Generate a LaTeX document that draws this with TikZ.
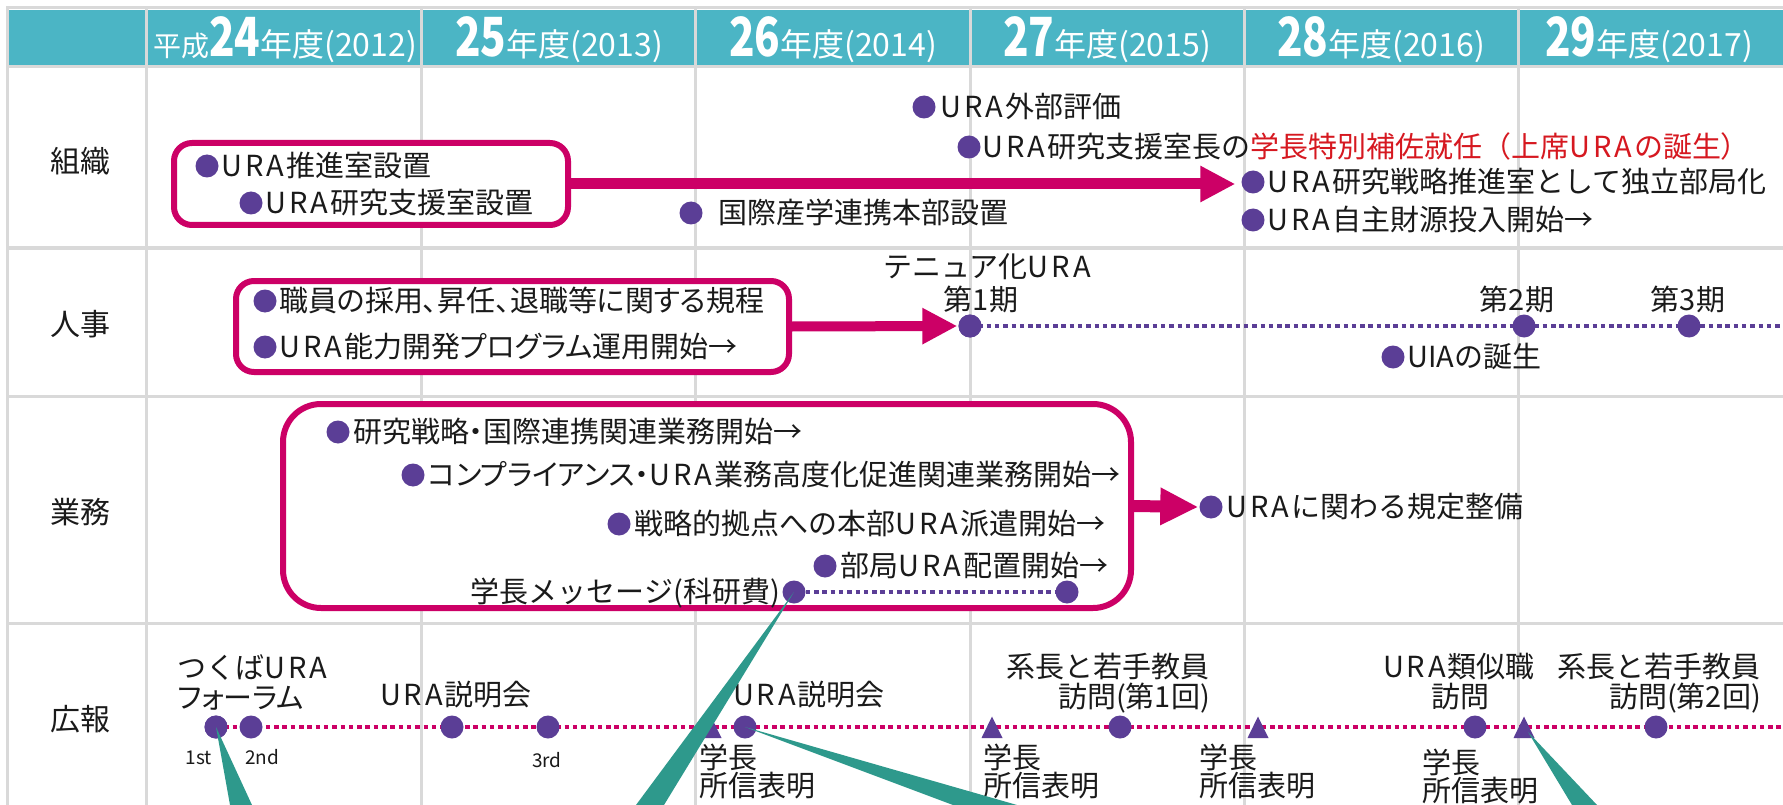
\documentclass[tikz,border=0pt]{standalone}
\usepackage{fontspec}
\usepackage{graphicx}
\setmainfont{Noto Sans CJK JP}
\newfontfamily\jpp{Noto Sans CJK JP}[RawFeature=+palt]
\usetikzlibrary{arrows.meta}
\definecolor{hdr}{RGB}{75,181,197}
\definecolor{grd}{RGB}{217,217,217}
\definecolor{mag}{RGB}{204,0,102}
\definecolor{purp}{RGB}{91,62,150}
\definecolor{tealw}{RGB}{46,153,140}
\definecolor{redt}{RGB}{214,24,32}
\definecolor{ink}{RGB}{26,26,26}
\newcommand{\fsz}[1]{\fontsize{#1}{#1}\selectfont}
\newcommand{\hbig}[1]{{\fsz{54}\bfseries\scalebox{0.78}[1]{#1}}}
\newcommand{\ura}{U\kern3pt R\kern3pt A\kern2pt}
\begin{document}
\begin{tikzpicture}[x=1pt,y=-1pt,
  txt/.style={inner sep=0, font=\fsz{29}, text=ink, text height=23pt, text depth=2pt},
  tw/.style={txt, anchor=west},
  te/.style={txt, anchor=east},
  two/.style={inner sep=0, font=\fontsize{29}{25}\selectfont, text=ink, anchor=north west, align=left},
  sm/.style={inner sep=0, font=\fsz{19}, text=ink, text height=14pt, text depth=0pt},
  hd/.style={inner sep=0, anchor=base, text=white},
  bul/.style={circle, fill=purp, inner sep=0, minimum size=23},
  tdot/.style={circle, fill=purp, inner sep=0, minimum size=23},
  rbox/.style={draw=mag, line width=6, fill=white, rounded corners=18, inner sep=0},
  gl/.style={grd, line width=3},
  harrow/.style={mag, -{Triangle[length=35pt 0, width=34pt 0]}},
  dotp/.style={purp, line width=3.5, dash pattern=on 4.5 off 3.8},
  dotm/.style={mag, line width=4, dash pattern=on 4.5 off 3.8},
  wedge/.style={fill=tealw}
]
\useasboundingbox (0,0) rectangle (1783,805);
\fill[white] (0,0) rectangle (1783,805);
% header band
\fill[hdr] (9,10) rectangle (1783,66);
% grid
\foreach \xx in {146,421,695,970,1244,1518} \draw[gl] (\xx,8) -- (\xx,805);
\draw[gl] (7.5,8) -- (7.5,805);
\draw[gl] (6,8) -- (1783,8);
\foreach \yy in {66.5,248,396,623} \draw[gl] (6,\yy) -- (1783,\yy);
% header texts
\node[hd] (h1) at (285,57) {\fsz{28}平成\hbig{24}\fsz{32}年度(2012)};
\node[hd] (h2) at (559,57) {\hbig{25}\fsz{32}年度(2013)};
\node[hd] (h3) at (833,57) {\hbig{26}\fsz{32}年度(2014)};
\node[hd] (h4) at (1107,57) {\hbig{27}\fsz{32}年度(2015)};
\node[hd] (h5) at (1381,57) {\hbig{28}\fsz{32}年度(2016)};
\node[hd] (h6) at (1649,57) {\hbig{29}\fsz{32}年度(2017)};
% row labels
\node[txt, font=\fsz{30}] (r1) at (80,162) {組織};
\node[txt, font=\fsz{30}] (r2) at (80,325) {人事};
\node[txt, font=\fsz{30}] (r3) at (80,513) {業務};
\node[txt, font=\fsz{30}] (r4) at (80,720) {広報};
% ---------- 組織
\node[rbox, minimum width=394, minimum height=82] (b1) at (371,184) {};
\node[bul] (o1) at (207,166) {}; \node[tw] (o1t) at (221,166) {\ura 推進室設置};
\node[bul] (o2) at (251,203) {}; \node[tw] (o2t) at (265,203) {\ura 研究支援室設置};
\node[bul] (o3) at (691,213) {}; \node[tw] (o3t) at (718,213) {国際産学連携本部設置};
\node[bul] (o4) at (924,107) {}; \node[tw] (o4t) at (940,107) {\ura 外部評価};
\node[bul] (o5) at (969,147) {}; \node[tw] (o5t) at (982,147) {\ura 研究支援室長の\textcolor{redt}{学長特別補佐就任（上席\ura の誕生{\jpp ）}}};
\node[bul] (o6) at (1253,182) {}; \node[tw] (o6t) at (1267,182) {\ura 研究戦略推進室として独立部局化};
\node[bul] (o7) at (1253,220) {}; \node[tw] (o7t) at (1267,220) {\ura 自主財源投入開始→};
\draw[harrow, line width=11, shorten >=6] (b1.east) -- (b1.east -| o6.west);
% ---------- 人事
\node[rbox, minimum width=553, minimum height=91] (b2) at (512.5,326.5) {};
\node[bul] (p1) at (265,301) {}; \node[tw] (p1t) at (279,301) {\jpp 職員の採用、昇任、退職等に関する規程};
\node[bul] (p2) at (265,347) {}; \node[tw] (p2t) at (279,347) {\jpp \ura 能力開発プログラム運用開始→};
\coordinate (kend) at (1783,326);
\node[tdot] (k1) at (970,326) {};
\draw[dotp] (k1.center) -- (kend);
\node[tdot] (k1) at (970,326) {};
\node[tdot] (k2) at (1524,326) {};
\node[tdot] (k3) at (1689,326) {};
\draw[harrow, line width=10, shorten >=1] (b2.east) -- (k1.west);
\node[txt] (k0t) at (988,267) {テニュア化\ura};
\node[txt] (k1t) at (981,300) {第1期};
\node[txt] (k2t) at (1517,300) {第2期};
\node[txt] (k3t) at (1688,300) {第3期};
\node[bul] (p3) at (1393,357) {}; \node[tw] (p3t) at (1407,357) {UIAの誕生};
% ---------- 業務
\node[rbox, rounded corners=38, minimum width=848, minimum height=204] (b3) at (707,506) {};
\node[bul] (g1) at (338,432) {}; \node[tw] (g1t) at (353,432) {\jpp 研究戦略・国際連携関連業務開始→};
\node[bul] (g2) at (413,475) {}; \node[tw] (g2t) at (428,475) {\jpp コンプライアンス・\ura 業務高度化促進関連業務開始→};
\node[bul] (g3) at (619,524) {}; \node[tw] (g3t) at (634,524) {戦略的拠点への本部\ura 派遣開始→};
\node[bul] (g4) at (825,566) {}; \node[tw] (g4t) at (840,566) {部局\ura 配置開始→};
\node[tdot] (m1) at (794,592) {};
\node[tdot] (m2) at (1067,592) {};
\draw[dotp] (m1) -- (m2);
\node[te] (m1t) at (780,592) {学長メッセージ(科研費)};
\node[bul] (u1) at (1211,507) {}; \node[tw] (u1t) at (1226,507) {\ura に関わる規定整備};
\draw[harrow, line width=12, -{Triangle[length=38pt 0, width=35pt 0]}, shorten >=1] (b3.east) -- (u1.west);
% ---------- 広報
\coordinate (fend) at (1783,727);
\node[tdot] (f1) at (216,727) {};
\draw[dotm] (f1.center) -- (fend);
\node[tdot] (f1) at (216,727) {};
\node[tdot] (f2) at (251,727) {};
\node[tdot] (f3) at (452,727) {};
\node[tdot] (f4) at (548,727) {};
\node[tdot] (f5) at (745,727) {};
\node[tdot] (f6) at (1120,727) {};
\node[tdot] (f7) at (1475,727) {};
\node[tdot] (f8) at (1656,727) {};
\coordinate (tr1) at (711,727.5);
\coordinate (tr2) at (992,727.5);
\coordinate (tr3) at (1258,727.5);
\coordinate (tr4) at (1524,727.5);
\foreach \t in {tr1,tr2,tr3,tr4} \fill[purp] (\t) ++(0,-11) -- ++(10.5,21.5) -- ++(-21,0) -- cycle;
\node[tw] (fa) at (177,668) {つくば\ura};
\node[tw] (fb) at (177,698) {\jpp フォーラム};
\node[sm] (f1t) at (199,757) {1st};
\node[sm] (f2t) at (262,757) {2nd};
\node[sm] (f4t) at (547,760) {3rd};
\node[txt] (f3t) at (456,695) {\ura 説明会};
\node[txt] (f5t) at (809,695) {\ura 説明会};
\node[two] (s1) at (699,744) {学長\\所信表明};
\node[two] (s2) at (983,744) {学長\\所信表明};
\node[two] (s3) at (1199,744) {学長\\所信表明};
\node[two] (s4) at (1422,749) {学長\\所信表明};
\node[te] (f6a) at (1210,667) {系長と若手教員};
\node[te] (f6b) at (1210,697) {訪問(第1回)};
\node[txt] (f7a) at (1459,667) {\ura 類似職};
\node[txt] (f7b) at (1460,697) {訪問};
\node[te] (f8a) at (1761,667) {系長と若手教員};
\node[te] (f8b) at (1761,697) {訪問(第2回)};
% ---------- wedges
\coordinate (w1a) at (230,805); \coordinate (w1b) at (252,805);
\coordinate (w2a) at (636,805); \coordinate (w2b) at (664,805);
\coordinate (w3a) at (953,805); \coordinate (w3b) at (1017,805);
\coordinate (w4t) at (1528,732);
\coordinate (w4a) at (1572,805); \coordinate (w4b) at (1597,805);
\fill[wedge] (f1.center) -- (w1a) -- (w1b) -- cycle;
\fill[wedge] (m1.center) -- (w2a) -- (w2b) -- cycle;
\fill[wedge] (f5.center) -- (w3a) -- (w3b) -- cycle;
\fill[wedge] (w4t) -- (w4a) -- (w4b) -- cycle;
\end{tikzpicture}
\end{document}
